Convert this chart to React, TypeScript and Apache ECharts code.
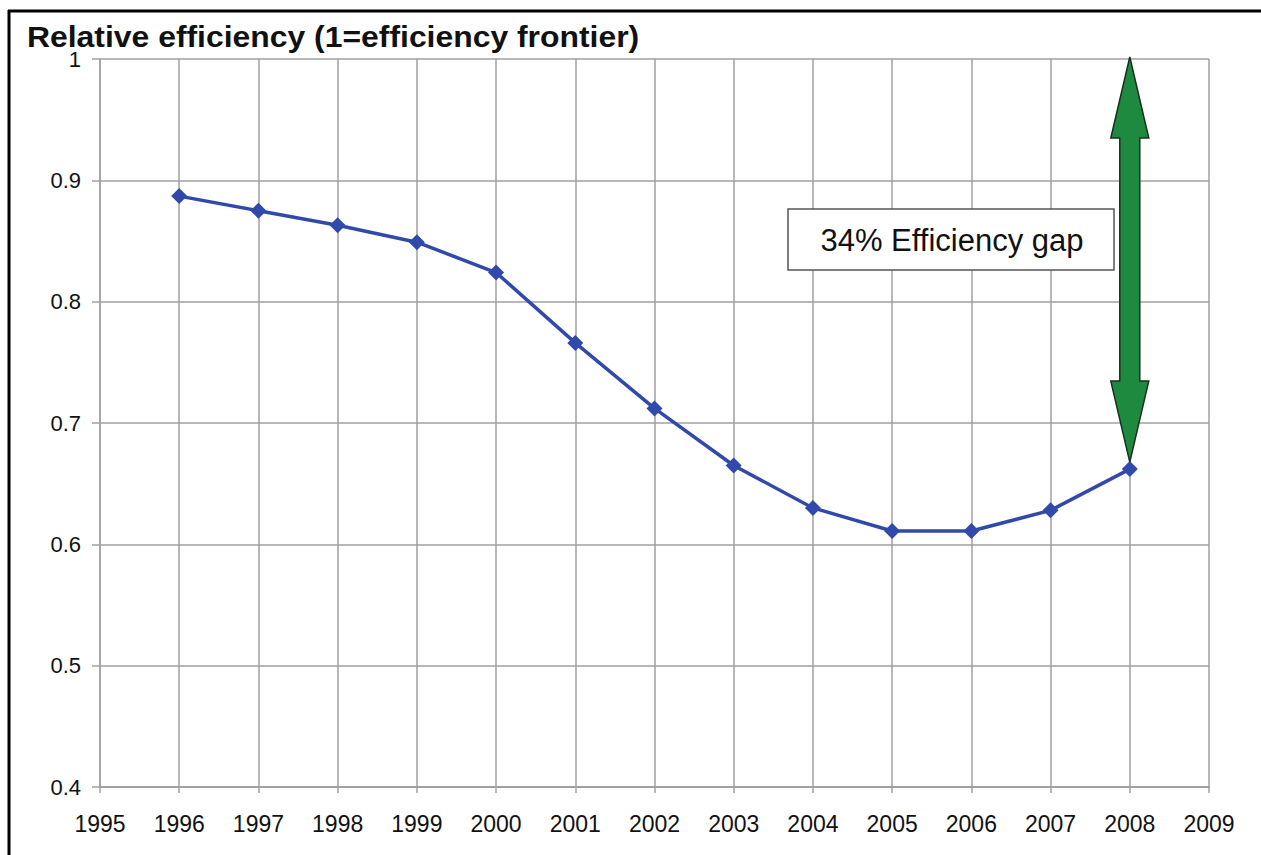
import React, { useEffect, useRef } from "react";
import * as echarts from "echarts";

const years = [1996, 1997, 1998, 1999, 2000, 2001, 2002, 2003, 2004, 2005, 2006, 2007, 2008];
const efficiency = [0.887, 0.875, 0.863, 0.849, 0.824, 0.766, 0.712, 0.665, 0.63, 0.611, 0.611, 0.628, 0.662];
const titleText = "Relative efficiency (1=efficiency frontier)";
const gapLabel = "34% Efficiency gap";
const frontier = 1;

const FONT = "'Liberation Sans', Arial, Helvetica, sans-serif";

export default function App() {
  const ref = useRef<HTMLDivElement>(null);
  useEffect(() => {
    document.body.style.margin = "0";
    const chart = echarts.init(ref.current!, undefined, { renderer: "svg" });
    const gridColor = "#a0a0a0";
    chart.setOption({
      animation: false,
      backgroundColor: "#ffffff",
      grid: { left: 100, right: 52, top: 59, bottom: 68, containLabel: false, outerBoundsMode: "none" },
      xAxis: {
        type: "value",
        min: 1995,
        max: 2009,
        interval: 1,
        axisLine: { show: true, lineStyle: { color: gridColor, width: 2 } },
        axisTick: { show: true, length: 6, lineStyle: { color: gridColor, width: 1.5 } },
        axisLabel: {
          formatter: (v: number) => String(v),
          fontFamily: FONT,
          fontSize: 23,
          color: "#111",
          margin: 25,
        },
        splitLine: { show: true, lineStyle: { color: gridColor, width: 1.5 } },
      },
      yAxis: {
        type: "value",
        min: 0.4,
        max: 1,
        interval: 0.1,
        axisLine: { show: true, lineStyle: { color: gridColor, width: 1.5 } },
        axisTick: { show: true, length: 8, lineStyle: { color: gridColor, width: 1.5 } },
        axisLabel: {
          formatter: (v: number) => (Math.abs(v - 1) < 1e-9 ? "1" : v.toFixed(1)),
          fontFamily: FONT,
          fontSize: 22,
          color: "#111",
          margin: 19,
        },
        splitLine: { show: true, lineStyle: { color: gridColor, width: 1.5 } },
      },
      series: [
        {
          type: "line",
          data: years.map((y, i) => [y, efficiency[i]]),
          symbol: "diamond",
          symbolSize: 16,
          lineStyle: { color: "#3049aa", width: 3.5 },
          itemStyle: { color: "#3049aa" },
          z: 5,
        },
      ],
    });

    const last = years.length - 1;
    const top = chart.convertToPixel({ gridIndex: 0 }, [years[last], frontier]) as number[];
    const bot = chart.convertToPixel({ gridIndex: 0 }, [years[last], efficiency[last]]) as number[];
    const cx = top[0];
    const tipT = top[1] - 2;
    const tipB = bot[1] - 7;
    const headH = 81;
    const headW = 19;
    const shaftW = 10;
    const arrowPts = [
      [cx, tipT],
      [cx + headW, tipT + headH],
      [cx + shaftW, tipT + headH],
      [cx + shaftW, tipB - headH],
      [cx + headW, tipB - headH],
      [cx, tipB],
      [cx - headW, tipB - headH],
      [cx - shaftW, tipB - headH],
      [cx - shaftW, tipT + headH],
      [cx - headW, tipT + headH],
    ];

    chart.setOption({
      graphic: [
        { type: "line", shape: { x1: 8, y1: 11, x2: 1261, y2: 11 }, style: { stroke: "#000", lineWidth: 3 } },
        { type: "line", shape: { x1: 9, y1: 10, x2: 9, y2: 855 }, style: { stroke: "#000", lineWidth: 3 } },
        {
          type: "text",
          x: 27,
          y: 37,
          scaleX: 1.1,
          style: {
            text: titleText,
            fontFamily: FONT,
            fontSize: 29,
            lineHeight: 22,
            fontWeight: "bold",
            fill: "#111",
            align: "left",
            verticalAlign: "middle",
          },
          z: 11,
        },
        {
          type: "polygon",
          shape: { points: arrowPts },
          style: { fill: "#1e8a3f", stroke: "#17301d", lineWidth: 1.5 },
          z: 10,
        },
        {
          type: "rect",
          shape: { x: 788, y: 209, width: 326, height: 61 },
          style: { fill: "#ffffff", stroke: "#555", lineWidth: 1.5 },
          z: 10,
        },
        {
          type: "text",
          x: 952,
          y: 240,
          style: {
            text: gapLabel,
            fontFamily: FONT,
            fontSize: 31,
            fill: "#111",
            align: "center",
            verticalAlign: "middle",
          },
          z: 11,
        },
      ],
    });

    return () => chart.dispose();
  }, []);
  return <div ref={ref} style={{ width: 1261, height: 855 }} />;
}
